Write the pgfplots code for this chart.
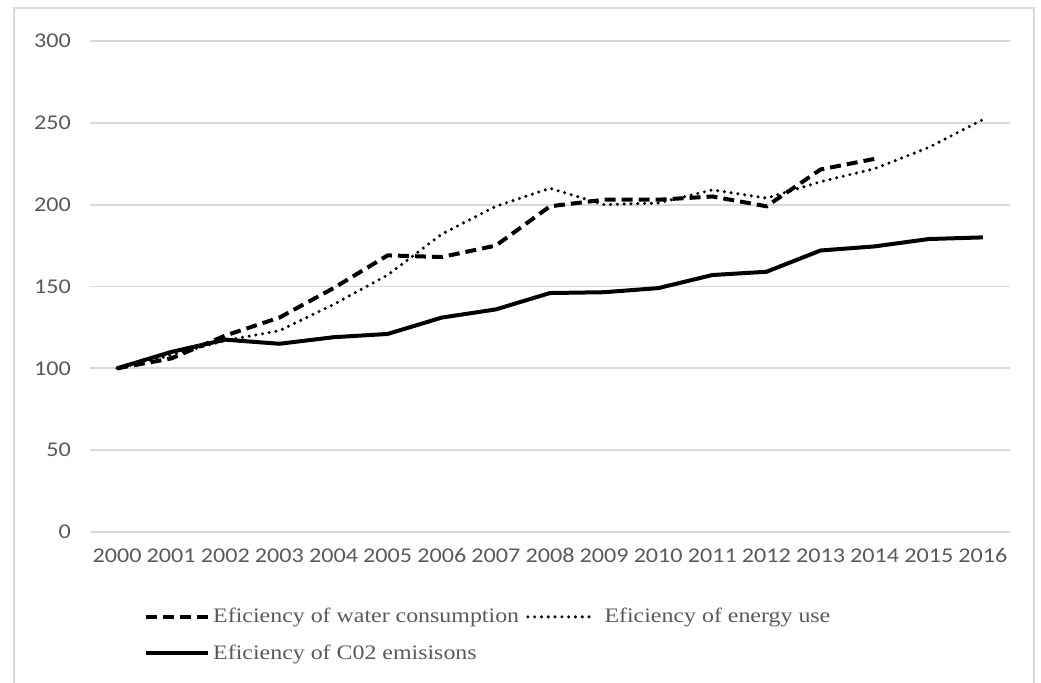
\documentclass[border=0pt]{standalone}
\usepackage{pgfplots}
\pgfplotsset{compat=1.18}
\usepackage{fontspec}
\setmainfont{Carlito}
\newfontfamily\tickfont[FakeStretch=1.15]{Carlito}
\newfontfamily\legfont[FakeStretch=1.16]{Liberation Serif}
\definecolor{txtgray}{HTML}{595959}
\definecolor{gridgray}{HTML}{D9D9D9}
\definecolor{framegray}{HTML}{D9D9D9}

\begin{document}
\begin{tikzpicture}
% page area and chart frame (bottom edge runs off the page)
\useasboundingbox (0pt,0pt) rectangle (520.5pt,341.5pt);
\draw[framegray, line width=0.8pt] (7pt,-5pt) -- (7pt,337.5pt) -- (517pt,337.5pt) -- (517pt,-5pt);
\begin{axis}[
  at={(45pt,75.5pt)}, anchor=south west,
  scale only axis, width=460pt, height=245.5pt,
  xmin=-0.5, xmax=16.5, ymin=0, ymax=300,
  xtick={0,...,16},
  xticklabels={2000,2001,2002,2003,2004,2005,2006,2007,2008,2009,2010,2011,2012,2013,2014,2015,2016},
  ytick={0,50,...,300},
  ymajorgrids, grid style={gridgray, line width=0.9pt},
  axis line style={draw=none}, tick style={draw=none},
  /pgf/number format/assume math mode=true,
  tick label style={font=\tickfont\fontsize{10.5}{12}\selectfont, text=txtgray},
  yticklabel style={xshift=-6pt},
  xticklabel style={yshift=-5pt, text height=1.4ex, text depth=0pt},
  legend columns=2,
  legend cell align=left,
  legend style={
    at={(axis description cs:0.052,-0.14)}, anchor=north west,
    draw=none, fill=none,
    font=\legfont\fontsize{10.3}{12}\selectfont, text=txtgray,
    row sep=6.5pt, column sep=0pt,
    nodes={inner sep=1.5pt},
    /tikz/every even column/.append style={column sep=2pt},
  },
  legend image code/.code={\draw[#1] (0pt,0pt) -- (31pt,0pt);},
]
\addplot[black, line width=2pt, dash pattern=on 5.5pt off 3pt] coordinates {
  (0,100) (1,106) (2,120) (3,131) (4,149) (5,169) (6,168) (7,175) (8,199)
  (9,203) (10,203) (11,205) (12,199) (13,221.5) (14,228)
};
\addlegendentry{Eficiency of water consumption}
\addplot[black, line width=1.7pt, line cap=round, dash pattern=on 0pt off 3.4pt] coordinates {
  (0,100) (1,108) (2,117) (3,123) (4,139) (5,157) (6,182) (7,199) (8,210)
  (9,200) (10,201) (11,209) (12,204) (13,214) (14,222) (15,235) (16,252)
};
\addlegendentry{\hspace{5pt}Eficiency of energy use}
\addplot[black, line width=2pt] coordinates {
  (0,100) (1,110) (2,117.5) (3,115) (4,119) (5,121) (6,131) (7,136) (8,146)
  (9,146.5) (10,149) (11,157) (12,159) (13,172) (14,174.5) (15,179) (16,180)
};
\addlegendentry{Eficiency of C02 emisisons}
\end{axis}
\end{tikzpicture}
\end{document}
